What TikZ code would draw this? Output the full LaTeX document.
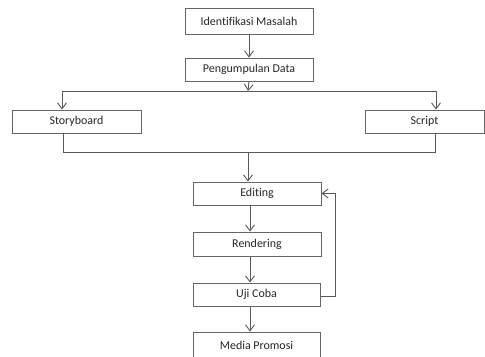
\documentclass[tikz,border=0pt]{standalone}
\usepackage{fontspec}
\setmainfont{Carlito}[Ligatures=NoCommon]
\usetikzlibrary{arrows.meta,calc}
\begin{document}
\begin{tikzpicture}[x=1bp,y=-1bp,
  box/.style={draw=black!60,line width=0.9bp,rectangle,inner sep=0pt,font=\fontsize{12}{14}\selectfont,text=black!85},
  conn/.style={draw=black!65,line width=0.9bp},
  arr/.style={conn,-{Straight Barb[length=6bp,width=9bp]}}]
\useasboundingbox (0,0) rectangle (485,356);
\node[box,minimum width=128bp,minimum height=26bp] (ident) at (249,21) {Identifikasi Masalah};
\node[box,minimum width=128bp,minimum height=23bp] (peng) at (249,69.5) {Pengumpulan Data};
\node[box,minimum width=129bp,minimum height=23bp] (story) at (76.5,121.5) {Storyboard};
\node[box,minimum width=119bp,minimum height=23bp] (script) at (424.5,121.5) {Script};
\node[box,minimum width=128bp,minimum height=23bp] (edit) at (257,193.5) {Editing};
\node[box,minimum width=128bp,minimum height=24bp] (rend) at (257,244) {Rendering};
\node[box,minimum width=127bp,minimum height=23bp] (uji) at (256.5,294.5) {Uji Coba};
\node[box,minimum width=127bp,minimum height=26bp] (media) at (256.5,345) {Media Promosi};
\coordinate (split) at (248,91);
\coordinate (sl) at (62,91);
\coordinate (sr) at (436,91);
\coordinate (join) at (248,152);
\coordinate (jl) at (63,152);
\coordinate (jr) at (435,152);
\coordinate (fb) at (335,296);
\draw[arr] (ident.south) -- (peng.south |- ident.south) -- (peng.north);
\draw[arr] (peng.south) -- (split);
\draw[conn] (sl) -- (sr);
\draw[arr] (sl) -- (sl |- story.north);
\draw[arr] (sr) -- (sr |- script.north);
\draw[conn] (jl |- story.south) -- (jl) -- (jr) -- (jr |- script.south);
\draw[arr] (join) -- (join |- edit.north);
\draw[arr] (250,205) coordinate (e1) -- (e1 |- rend.north);
\draw[arr] (250,256) coordinate (r1) -- (r1 |- uji.north);
\draw[arr] (250,306) coordinate (u1) -- (u1 |- media.north);
\draw[arr] (uji.east |- fb) -- (fb) -- (fb |- edit.east) -- (edit.east);
\end{tikzpicture}
\end{document}
